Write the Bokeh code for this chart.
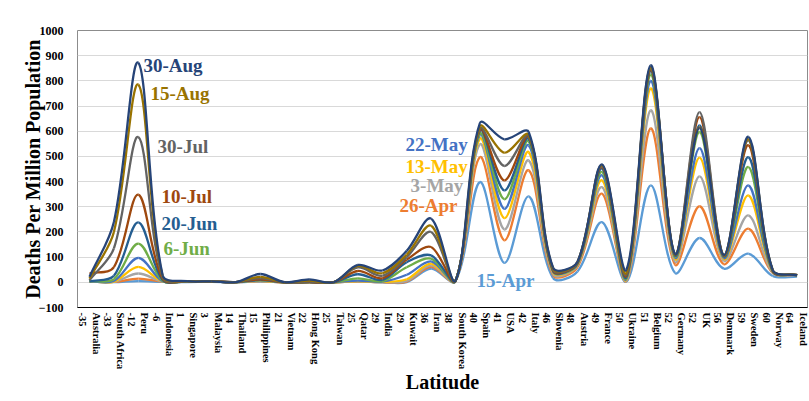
import numpy as np
from bokeh.plotting import figure
from bokeh.models import Range1d, FixedTicker, SingleIntervalTicker, Label, ColumnDataSource
from bokeh.embed import file_html
from bokeh.resources import INLINE

countries = ["Australia", "South Africa", "Peru", "Indonesia", "Singapore", "Malaysia", "Thailand",
             "Philippines", "Vietnam", "Hong Kong", "Taiwan", "Qatar", "India", "Kuwait", "Iran",
             "South Korea", "Spain", "USA", "Italy", "Slovenia", "Austria", "France", "Ukraine",
             "Belgium", "Germany", "UK", "Denmark", "Sweden", "Norway", "Iceland"]
latitudes = [-35, -33, -12, -6, 1, 3, 14, 15, 21, 22, 25, 25, 29, 29, 36, 38, 40, 41, 42, 46,
             48, 49, 50, 51, 52, 52, 56, 59, 60, 64]

dates = ["15-Apr", "26-Apr", "3-May", "13-May", "22-May", "6-Jun", "20-Jun", "10-Jul",
         "30-Jul", "15-Aug", "30-Aug"]

apr15 = [2.5, 0.6, 5, 1.8, 1.2, 2, 0.6, 3, 0, 0.5, 0.25, 3, 0.3, 0.7, 54, 4.4, 398, 77, 341, 17,
         43, 239, 2.5, 385, 37, 176, 54, 114, 25, 23]
apr26 = [3.3, 1.5, 15, 2.8, 2, 3, 0.8, 4.5, 0, 0.5, 0.25, 4, 0.6, 3, 61, 4.7, 497, 167, 445, 28,
         60, 352, 5, 611, 70, 302, 72, 213, 37, 29]
may3 = [3.7, 2, 35, 3, 3, 3.2, 0.8, 5, 0, 0.5, 0.25, 5, 1, 6, 67, 4.8, 548, 210, 484, 33,
        67, 378, 6.5, 683, 82, 421, 85, 266, 39, 29]
may13 = [3.8, 3, 61, 3.5, 3.5, 3.5, 0.8, 6, 0, 0.5, 0.3, 5, 1.8, 12, 74, 5, 570, 255, 517, 40,
         70, 405, 10, 770, 92, 495, 92, 345, 43, 29]
may22 = [4, 5, 97, 4.5, 4, 3.5, 0.8, 7.5, 0, 0.5, 0.3, 7, 2.7, 30, 83, 5, 585, 292, 544, 43,
         72, 425, 13, 800, 98, 533, 96, 385, 44, 29]
jun6 = [4, 13, 154, 6, 4, 3.6, 0.8, 9, 0, 0.5, 0.3, 16, 4.5, 60, 94, 5.3, 590, 330, 560, 45,
        74, 438, 16, 825, 103, 597, 102, 458, 44, 29]
jun20 = [4, 26, 238, 9, 4.4, 3.7, 0.8, 10, 0, 0.5, 0.3, 32, 9.5, 80, 107, 5.4, 603, 365, 570, 46,
         76, 451, 20, 840, 107, 623, 103, 497, 45, 29]
jul10 = [35, 60, 348, 13, 4.6, 3.8, 0.8, 12, 0, 1, 0.3, 45, 16, 90, 140, 5.6, 606, 405, 579, 47,
         78, 458, 26, 845, 109, 656, 105, 545, 46, 29]
jul30 = [8, 135, 577, 19, 4.6, 3.8, 0.8, 17, 0.1, 3, 0.3, 59, 26, 100, 200, 5.8, 610, 462, 582, 50,
         80, 462, 31, 850, 110, 676, 106, 565, 47, 29]
aug15 = [15, 200, 785, 23, 4.6, 3.9, 0.8, 22, 0.2, 7, 0.3, 65, 36, 110, 225, 6, 618, 515, 586, 55,
         81, 465, 38, 855, 111, 615, 107, 570, 48, 29]
aug30 = [22, 240, 872, 27, 4.6, 4, 0.8, 33, 0.4, 12, 0.3, 69, 47, 125, 253, 6.3, 632, 568, 597, 58,
         82, 468, 50, 862, 112, 612, 108, 578, 49, 29]

series = [apr15, apr26, may3, may13, may22, jun6, jun20, jul10, jul30, aug15, aug30]
colors = ["#5B9BD5", "#ED7D31", "#A5A5A5", "#FFC000", "#4472C4", "#70AD47",
          "#255E91", "#9E480E", "#636363", "#997300", "#264478"]

# placement (data units) of the series-name annotations
label_x = [15.86, 12.7, 13.16, 12.95, 12.95, 3.03, 2.95, 2.95, 2.79, 2.5, 2.21]
label_y = [7, 305, 384, 461, 547, 134, 234, 341, 539, 751, 861]

W, H = 808, 400
ML, MT, MR, MB = 77, 30, 1, 93
FW, FH = W - ML - MR, H - MT - MB
STEP = 24.4
X0 = -12 / STEP
X1 = X0 + FW / STEP
Y0, Y1 = -100, 1000
sx = FW / (X1 - X0)
sy = FH / (Y1 - Y0)

p = figure(width=W, height=H, output_backend="svg", toolbar_location=None,
           x_range=Range1d(X0, X1), y_range=Range1d(Y0, Y1),
           min_border_left=ML, min_border_top=MT, min_border_right=MR, min_border_bottom=MB)
p.background_fill_color = "white"
p.border_fill_color = "white"
p.outline_line_color = "#8C8C8C"
p.outline_line_width = 1


def smooth(ys):
    P = np.column_stack([np.arange(len(ys)) * sx, np.asarray(ys, float) * sy])
    n = len(P)
    d = {k: [] for k in ("x0", "y0", "x1", "y1", "cx0", "cy0", "cx1", "cy1")}
    for i in range(n - 1):
        p0, p1, p2, p3 = P[max(i - 1, 0)], P[i], P[i + 1], P[min(i + 2, n - 1)]
        d01 = np.linalg.norm(p1 - p0)
        d12 = np.linalg.norm(p2 - p1)
        d23 = np.linalg.norm(p3 - p2)
        c1 = p1 + (p2 - p0) / 3 * (d12 / (d01 + d12))
        c2 = p2 - (p3 - p1) / 3 * (d12 / (d12 + d23))
        d["x0"].append(p1[0] / sx); d["y0"].append(p1[1] / sy)
        d["x1"].append(p2[0] / sx); d["y1"].append(p2[1] / sy)
        d["cx0"].append(c1[0] / sx); d["cy0"].append(c1[1] / sy)
        d["cx1"].append(c2[0] / sx); d["cy1"].append(c2[1] / sy)
    return ColumnDataSource(d)


for ys, c in zip(series, colors):
    p.bezier(x0="x0", y0="y0", x1="x1", y1="y1", cx0="cx0", cy0="cy0", cx1="cx1", cy1="cy1",
             source=smooth(ys), line_color=c, line_width=2.3)

for name, c, lx, ly in zip(dates, colors, label_x, label_y):
    p.add_layout(Label(x=lx, y=ly, text=name, text_color=c, text_font="Liberation Serif",
                       text_font_style="bold", text_font_size="19px",
                       text_align="left", text_baseline="middle"))

p.xgrid.grid_line_color = None
p.ygrid.grid_line_color = "#D9D9D9"
p.ygrid.grid_line_width = 1

p.yaxis.ticker = SingleIntervalTicker(interval=100)
p.yaxis.axis_line_color = None
p.yaxis.major_tick_line_color = None
p.yaxis.minor_tick_line_color = None
p.yaxis.major_tick_out = 0
p.yaxis.major_tick_in = 0
p.yaxis.major_label_text_font = "Liberation Serif"
p.yaxis.major_label_text_font_style = "bold"
p.yaxis.major_label_text_font_size = "12px"
p.yaxis.major_label_text_color = "#000000"
p.yaxis.major_label_standoff = 10
p.yaxis.axis_label = "Deaths Per Million Population"
p.yaxis.axis_label_text_font = "Liberation Serif"
p.yaxis.axis_label_text_font_style = "bold"
p.yaxis.axis_label_text_font_size = "20px"
p.yaxis.axis_label_text_color = "#000000"
p.yaxis.axis_label_standoff = -8

p.xaxis.ticker = FixedTicker(ticks=list(range(len(countries))))
p.xaxis.major_label_overrides = {i: f"{c}\n{lat}" for i, (lat, c) in enumerate(zip(latitudes, countries))}
p.xaxis.major_label_orientation = "vertical"
p.xaxis.axis_line_color = "#000000"
p.xaxis.major_tick_line_color = None
p.xaxis.minor_tick_line_color = None
p.xaxis.major_tick_out = 0
p.xaxis.major_tick_in = 0
p.xaxis.major_label_text_font = "Liberation Serif"
p.xaxis.major_label_text_font_style = "bold"
p.xaxis.major_label_text_font_size = "10.5px"
p.xaxis.major_label_text_color = "#000000"
p.xaxis.major_label_standoff = 5
p.xaxis.axis_label = "Latitude"
p.xaxis.axis_label_text_font = "Liberation Serif"
p.xaxis.axis_label_text_font_style = "bold"
p.xaxis.axis_label_text_font_size = "20px"
p.xaxis.axis_label_text_color = "#000000"
p.xaxis.axis_label_standoff = -2

open("out.html", "w").write(file_html(p, INLINE))
